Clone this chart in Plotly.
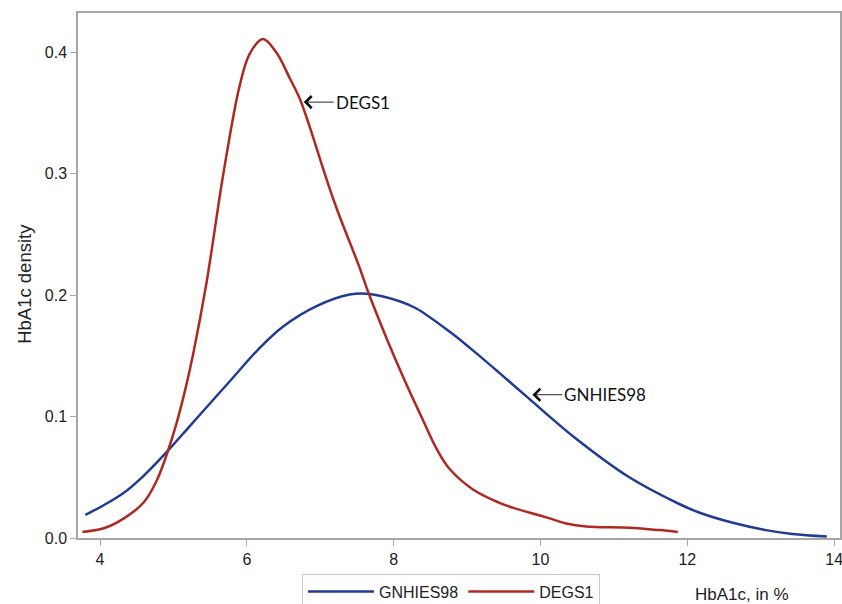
import plotly.graph_objects as go

# DEGS1 density (red)
degs_x = [3.76, 4.05, 4.32, 4.59, 4.77, 4.91, 5.04, 5.16, 5.27, 5.45, 5.68, 5.90,
          6.04, 6.22, 6.40, 6.59, 6.72, 6.86, 7.04, 7.22, 7.54, 7.65, 7.90, 8.17,
          8.40, 8.58, 8.76, 9.08, 9.44, 9.62, 10.08, 10.35, 10.62, 11.21, 11.62, 11.87]
degs_y = [0.005, 0.008, 0.016, 0.029, 0.047, 0.069, 0.094, 0.122, 0.152, 0.210, 0.300, 0.372,
          0.399, 0.411, 0.400, 0.378, 0.362, 0.338, 0.304, 0.272, 0.222, 0.203, 0.165, 0.127,
          0.097, 0.074, 0.057, 0.040, 0.029, 0.025, 0.017, 0.012, 0.0095, 0.0084, 0.0065, 0.005]

# GNHIES98 density (blue)
gnh_x = [3.80, 4.05, 4.32, 4.59, 4.91, 5.22, 5.50, 5.81, 6.15, 6.49, 6.95, 7.40, 7.67,
         8.08, 8.31, 8.76, 9.03, 9.44, 9.84, 10.46, 11.21, 11.89, 12.16, 12.62,
         13.07, 13.43, 13.90]
gnh_y = [0.019, 0.027, 0.037, 0.051, 0.071, 0.092, 0.111, 0.132, 0.155, 0.174, 0.191, 0.2005, 0.201,
         0.195, 0.189, 0.170, 0.157, 0.136, 0.115, 0.083, 0.050, 0.028, 0.021, 0.0125,
         0.0065, 0.0033, 0.0012]

x_ticks = [4, 6, 8, 10, 12, 14]
y_ticks = [0.0, 0.1, 0.2, 0.3, 0.4]

BLUE = "#1f3b94"
RED = "#ac2a22"
AXIS = "#a6a6a6"
TXT = "#222222"
FONT = "Liberation Sans"

fig = go.Figure()
fig.add_trace(go.Scatter(x=gnh_x, y=gnh_y, mode="lines", name="GNHIES98",
                         line=dict(color=BLUE, width=2.5, shape="spline", smoothing=1.0)))
fig.add_trace(go.Scatter(x=degs_x, y=degs_y, mode="lines", name="DEGS1",
                         line=dict(color=RED, width=2.5, shape="spline", smoothing=1.0)))

fig.update_layout(
    width=842, height=604,
    margin=dict(l=78, r=2, t=13, b=66, autoexpand=False),
    plot_bgcolor="white", paper_bgcolor="white",
    showlegend=True,
    legend=dict(orientation="h", x=0.294, y=-0.068, xanchor="left", yanchor="top",
                bordercolor="#c8c8c8", borderwidth=1, itemwidth=66,
                font=dict(family=FONT, size=16, color=TXT)),
    font=dict(family=FONT, size=16, color=TXT),
)
fig.update_xaxes(range=[3.70, 14.08], tickvals=x_ticks, ticks="outside", ticklen=6,
                 tickcolor=AXIS, showline=True, linecolor=AXIS, linewidth=1.5, mirror=True,
                 showgrid=False, zeroline=False, ticklabeloverflow="allow",
                 tickfont=dict(family=FONT, size=16, color=TXT))
fig.update_yaxes(range=[0, 0.4324], tickvals=y_ticks, tickformat=".1f", ticks="outside",
                 ticklen=6, tickcolor=AXIS, showline=True, linecolor=AXIS, linewidth=1.5,
                 mirror=True, showgrid=False, zeroline=False,
                 tickfont=dict(family=FONT, size=16, color=TXT))

fig.add_annotation(text="HbA1c, in %", xref="paper", yref="paper", x=0.871, y=-0.107,
                   xanchor="center", yanchor="middle", showarrow=False,
                   font=dict(family=FONT, size=17, color=TXT))
fig.add_annotation(text="HbA1c density", xref="paper", yref="paper", x=-0.0696, y=0.484,
                   xanchor="center", yanchor="middle", showarrow=False, textangle=-90,
                   font=dict(family=FONT, size=18.5, color=TXT))

fig.add_annotation(text="DEGS1", x=6.775, y=0.359, ax=30, ay=0, xanchor="left",
                   showarrow=True, arrowhead=4, arrowsize=2.6, arrowwidth=0.9,
                   arrowcolor="#111111", standoff=0,
                   font=dict(family="Lato", size=17, color="#111111"))
fig.add_annotation(text="GNHIES98", x=9.89, y=0.118, ax=30, ay=0, xanchor="left",
                   showarrow=True, arrowhead=4, arrowsize=2.6, arrowwidth=0.9,
                   arrowcolor="#111111", standoff=0,
                   font=dict(family="Lato", size=17, color="#111111"))

fig.write_html("out.html", config={"displayModeBar": False},
               post_script="document.body.style.margin='0';document.body.style.overflow='hidden';")
